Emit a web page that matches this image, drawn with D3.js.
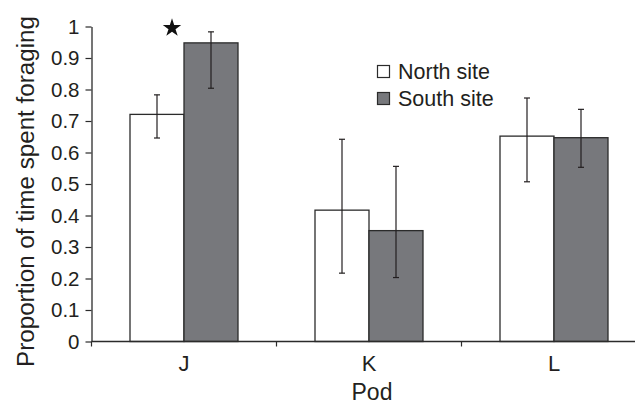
<!DOCTYPE html>
<html>
<head>
<meta charset="utf-8">
<script src="https://cdn.jsdelivr.net/npm/d3@7"></script>
<style>
  body { margin: 0; background: #fff; }
  svg { display: block; }
  text { font-family: "Liberation Sans", Arial, sans-serif; fill: #231f20; }
</style>
</head>
<body>
<div id="chart"></div>
<script>
const pods = ["J", "K", "L"];
const sites = ["North site", "South site"];
const northMean = [0.721, 0.417, 0.652];
const northLow = [0.646, 0.217, 0.507];
const northHigh = [0.783, 0.642, 0.773];
const southMean = [0.948, 0.352, 0.647];
const southLow = [0.804, 0.203, 0.553];
const southHigh = [0.983, 0.556, 0.737];
const yTicks = [0, 0.1, 0.2, 0.3, 0.4, 0.5, 0.6, 0.7, 0.8, 0.9, 1];
const starPod = "J";

const W = 635, H = 404;
const fills = { "North site": "#ffffff", "South site": "#77787c" };

const rows = [];
pods.forEach((p, i) => {
  rows.push({ pod: p, site: sites[0], v: northMean[i], lo: northLow[i], hi: northHigh[i] });
  rows.push({ pod: p, site: sites[1], v: southMean[i], lo: southLow[i], hi: southHigh[i] });
});

const svg = d3.select("#chart").append("svg").attr("width", W).attr("height", H);

const x0 = d3.scaleBand().domain(pods).range([91.5, 646.5]).padding(0);
const x1 = d3.scaleBand().domain(sites).range([0, x0.bandwidth()]).paddingInner(0).paddingOuter(0.713);
const y = d3.scaleLinear().domain([0, 1]).range([341.5, 26.5]);

// bars
svg.append("g").selectAll("rect").data(rows).join("rect")
  .attr("x", d => x0(d.pod) + x1(d.site))
  .attr("y", d => y(d.v))
  .attr("width", x1.bandwidth())
  .attr("height", d => y(0) - y(d.v))
  .attr("fill", d => fills[d.site])
  .attr("stroke", "#2b2b2b")
  .attr("stroke-width", 1.3);

// error bars
const eb = svg.append("g").attr("stroke", "#231f20").attr("stroke-width", 1.2);
const cx = d => x0(d.pod) + x1(d.site) + x1.bandwidth() / 2;
eb.selectAll("line.v").data(rows).join("line").attr("class", "v")
  .attr("x1", cx).attr("x2", cx)
  .attr("y1", d => y(d.lo)).attr("y2", d => y(d.hi));
eb.selectAll("line.t").data(rows).join("line").attr("class", "t")
  .attr("x1", d => cx(d) - 3).attr("x2", d => cx(d) + 3)
  .attr("y1", d => y(d.hi)).attr("y2", d => y(d.hi));
eb.selectAll("line.b").data(rows).join("line").attr("class", "b")
  .attr("x1", d => cx(d) - 3).attr("x2", d => cx(d) + 3)
  .attr("y1", d => y(d.lo)).attr("y2", d => y(d.lo));

// y axis
const yAxis = svg.append("g").attr("transform", `translate(${x0.range()[0]},0)`)
  .call(d3.axisLeft(y).tickValues(yTicks).tickSize(6).tickSizeOuter(0).tickPadding(6)
    .tickFormat(d => d === 0 ? "0" : d === 1 ? "1" : d3.format(".1f")(d)));
yAxis.select(".domain").attr("stroke", "#2b2b2b").attr("stroke-width", 1.3);
yAxis.selectAll(".tick line").attr("stroke", "#2b2b2b").attr("stroke-width", 1.2);
yAxis.selectAll(".tick text").attr("font-size", 20.5).attr("fill", "#231f20")
  .style("font-family", "'Liberation Sans', Arial, sans-serif");

// x axis: ticks at category boundaries
const xBase = svg.append("g").attr("transform", `translate(0,${y(0)})`);
xBase.append("line").attr("x1", x0.range()[0]).attr("x2", x0.range()[1])
  .attr("stroke", "#2b2b2b").attr("stroke-width", 1.3);
xBase.selectAll("line.tk").data(pods.concat(["end"])).join("line").attr("class", "tk")
  .attr("x1", (d, i) => x0.range()[0] + i * x0.step())
  .attr("x2", (d, i) => x0.range()[0] + i * x0.step())
  .attr("y1", 0).attr("y2", 5)
  .attr("stroke", "#2b2b2b").attr("stroke-width", 1.2);
xBase.selectAll("text").data(pods).join("text")
  .attr("x", d => x0(d) + x0.bandwidth() / 2)
  .attr("y", 29)
  .attr("text-anchor", "middle")
  .attr("font-size", 22)
  .text(d => d);

// axis titles
svg.append("text").attr("x", 372).attr("y", 400).attr("text-anchor", "middle")
  .attr("font-size", 23).text("Pod");
svg.append("text").attr("transform", `translate(34,${(13 + 370) / 2}) rotate(-90)`)
  .attr("text-anchor", "middle").attr("font-size", 24.2)
  .text("Proportion of time spent foraging");

// star annotation
svg.append("path")
  .attr("d", d3.symbol(d3.symbolStar, 105)())
  .attr("transform", `translate(${x0(starPod) + x0.bandwidth() / 2 - 12},${y(1) + 1.5})`)
  .attr("fill", "#111");

// legend
const lg = svg.append("g").attr("transform", "translate(377,65)");
sites.forEach((s, i) => {
  const g = lg.append("g").attr("transform", `translate(0,${i * 27})`);
  g.append("rect").attr("x", 0.5).attr("y", 0.5).attr("width", 12).attr("height", 12)
    .attr("fill", fills[s]).attr("stroke", "#2b2b2b").attr("stroke-width", 1.2);
  g.append("text").attr("x", 21).attr("y", 14).attr("font-size", 21.5).text(s);
});
</script>
</body>
</html>
